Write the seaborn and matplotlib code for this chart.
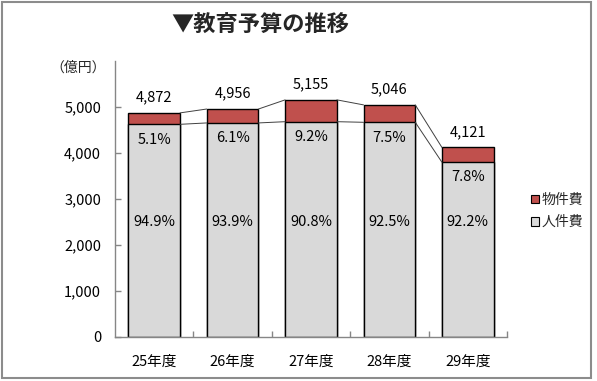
import matplotlib
matplotlib.use("Agg")
import matplotlib.pyplot as plt
import seaborn as sns
import pandas as pd
from matplotlib.patches import Patch, Rectangle
from matplotlib.ticker import FuncFormatter

years = ["25年度", "26年度", "27年度", "28年度", "29年度"]
totals = [4872, 4956, 5155, 5046, 4121]
pct_buppin = [5.1, 6.1, 9.2, 7.5, 7.8]
pct_jinken = [94.9, 93.9, 90.8, 92.5, 92.2]
jinken = [t * p / 100 for t, p in zip(totals, pct_jinken)]

sns.set_theme(style="white")
plt.rcParams['font.family'] = ['Noto Sans CJK JP', 'DejaVu Sans']

RED = "#C0504D"
GREY = "#D9D9D9"
AX = "#868686"

df = pd.DataFrame({"year": years, "total": totals, "jinken": jinken})

fig = plt.figure(figsize=(5.97, 3.81), dpi=100)
ax = fig.add_axes([115/597, 1-337/381, (507-115)/597, (337-61)/381])

W = 0.66
sns.barplot(data=df, x="year", y="total", color=RED, width=W, saturation=1,
            edgecolor="black", linewidth=1.0, ax=ax)
sns.barplot(data=df, x="year", y="jinken", color=GREY, width=W, saturation=1,
            edgecolor="black", linewidth=1.0, ax=ax)

# series lines
for i in range(len(years) - 1):
    for vals in (totals, jinken):
        ax.plot([i + W/2, i + 1 - W/2], [vals[i], vals[i+1]], color="#404040",
                lw=0.7, zorder=1)

# labels
for i in range(len(years)):
    ax.annotate(f"{totals[i]:,}", (i, totals[i]), xytext=(0, 11), textcoords="offset points",
                ha="center", va="center", fontsize=10.5, color="black")
    ax.annotate(f"{pct_buppin[i]}%", (i, jinken[i]), xytext=(0, -11), textcoords="offset points",
                ha="center", va="center", fontsize=10.5, color="black")
    ax.text(i, 2500, f"{pct_jinken[i]}%", ha="center", va="center", fontsize=10.5, color="black")

ax.set_xlim(-0.5, 4.5)
ax.set_ylim(0, 6000)
ax.set_yticks([0, 1000, 2000, 3000, 4000, 5000])
ax.yaxis.set_major_formatter(FuncFormatter(lambda v, p: f"{int(v):,}"))
ax.set_xlabel("")
ax.set_ylabel("")
for s in ["top", "right"]:
    ax.spines[s].set_visible(False)
for s in ["left", "bottom"]:
    ax.spines[s].set_color(AX)
    ax.spines[s].set_linewidth(1.0)
ax.tick_params(axis="y", direction="in", length=4, color=AX, width=1, pad=10,
               labelsize=10.5, labelcolor="black", left=True)
ax.set_xticks([0, 1, 2, 3, 4])
ax.set_xticklabels(years)
ax.tick_params(axis="x", length=0, pad=13, labelsize=10.5, labelcolor="black")
ax.set_xticks([0.5, 1.5, 2.5, 3.5, 4.5], minor=True)
ax.tick_params(axis="x", which="minor", direction="in", length=4, color=AX, width=1, bottom=True)
ax.grid(False)

fig.text(78/597, 1-68/381, "（億円）", ha="center", va="center", fontsize=10)
fig.text(260/597, 1-25/381, "▼教育予算の推移", ha="center", va="center",
         fontsize=16, fontweight="bold")

handles = [Patch(facecolor=RED, edgecolor="black", linewidth=0.8, label="物件費"),
           Patch(facecolor=GREY, edgecolor="black", linewidth=0.8, label="人件費")]
fig.legend(handles=handles, loc="center left", bbox_to_anchor=(524/597, 1-211/381),
           frameon=False, fontsize=10, handlelength=0.6, handleheight=0.6,
           handletextpad=0.2, labelspacing=0.6, borderpad=0)

fig.patches.append(Rectangle((1.5/597, 3/381), (591-1.5)/597, (379.5-3)/381,
                             transform=fig.transFigure, fill=False,
                             edgecolor="#8C8C8C", linewidth=1.5))

fig.savefig("out.png", dpi=100)
